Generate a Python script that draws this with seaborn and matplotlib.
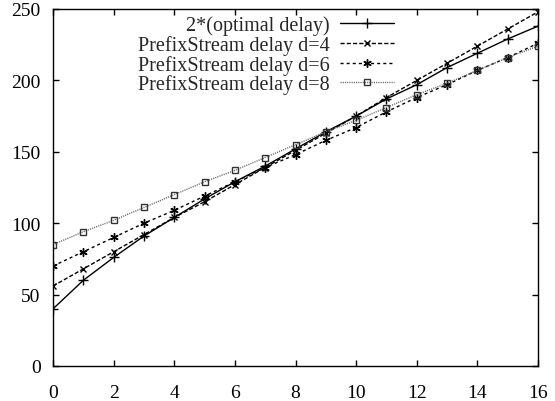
import matplotlib
matplotlib.use("Agg")
import matplotlib.pyplot as plt
import seaborn as sns
import numpy as np

x = list(range(17))
opt2 = [40, 60, 76, 91, 104, 117, 129, 140, 152, 164, 175, 187, 197, 209, 219, 229, 238]
d4 = [56, 68, 80, 92, 104, 115, 127, 139, 151, 163, 175, 188, 200, 212, 224, 236, 248]
d6 = [70, 80, 90, 100, 109, 119, 129, 139, 148, 158, 167, 178, 188, 197, 207, 216, 226]
d8 = [85, 94, 102, 111, 120, 129, 137, 146, 155, 164, 172, 181, 190, 198, 207, 216, 224]
labels = ["2*(optimal delay)", "PrefixStream delay d=4",
          "PrefixStream delay d=6", "PrefixStream delay d=8"]
xticks = [0, 2, 4, 6, 8, 10, 12, 14, 16]
yticks = [0, 50, 100, 150, 200, 250]

sns.set_style("ticks")
plt.rcParams['font.family'] = ['Liberation Serif', 'DejaVu Serif']

fig = plt.figure(figsize=(5.55, 4.02), dpi=100)
ax = fig.add_axes([53/555, 35/402, 485/555, 357/402])

asterisk = (6, 2, 0)
styles = [
    dict(color="black", linestyle="-", marker="+", markersize=7,
         markeredgecolor="black"),
    dict(color="black", linestyle=(0, (3, 1.5)), marker="x", markersize=5,
         markeredgecolor="black"),
    dict(color="black", linestyle=(0, (2.2, 2.2)), marker=asterisk, markersize=6,
         markeredgecolor="black"),
    dict(color="#666666", linestyle=(0, (0.8, 0.8)), marker="s", markersize=5,
         markerfacecolor="none", markeredgecolor="#333333"),
]
for ys, lab, st in zip([opt2, d4, d6, d8], labels, styles):
    sns.lineplot(x=x, y=ys, ax=ax, label=lab, linewidth=1.0,
                 markeredgewidth=1.0, **st)

ax.set_xlim(0, 16)
ax.set_ylim(0, 250)
ax.set_xticks(xticks)
ax.set_yticks(yticks)
ax.tick_params(direction="in", length=4, width=1, top=True, right=True,
               labelsize=14, colors="black")
ax.tick_params(axis="y", pad=9)
ax.tick_params(axis="x", pad=13)
for s in ax.spines.values():
    s.set_visible(True)
    s.set_linewidth(1.0)
    s.set_color("black")

leg = ax.legend(loc="upper right", bbox_to_anchor=(398/555, 1 - 12/402),
                bbox_transform=fig.transFigure, frameon=False, fontsize=14.5,
                markerfirst=False, handlelength=2.7, handletextpad=0.5,
                labelspacing=0.0, borderpad=0.2, borderaxespad=0)

fig.savefig("out.png", dpi=100)
